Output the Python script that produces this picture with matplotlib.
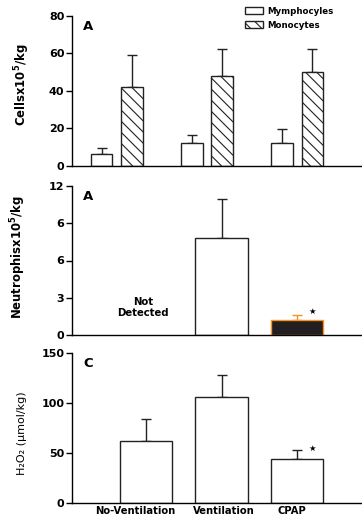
import numpy as np
import matplotlib
matplotlib.use("Agg")
import matplotlib.pyplot as plt
from matplotlib.transforms import ScaledTranslation

plt.rcParams['font.family'] = ['DejaVu Sans']
plt.rcParams['font.weight'] = 'bold'
plt.rcParams['axes.labelweight'] = 'bold'
plt.rcParams['mathtext.default'] = 'bf'
plt.rcParams['hatch.linewidth'] = 0.8

# top panel: cells
cell_groups = ['No-Ventilation', 'Ventilation', 'CPAP']
lympho = [6.5, 12, 12]
lympho_err = [3, 4.5, 7.5]
mono = [42, 48, 50]
mono_err = [17, 14.5, 12.5]

# middle panel: neutrophils (No-Ventilation not detected)
neut_groups = ['Ventilation', 'CPAP']
neut = [7.8, 1.2]
neut_err = [3.15, 0.45]
neut_ticks = [0, 3, 6, 9, 12]
neut_ticklabels = ['0', '3', '6', '6', '12']

# bottom panel: H2O2
h2o2_groups = ['No-Ventilation', 'Ventilation', 'CPAP']
h2o2 = [62, 105.5, 44.5]
h2o2_err = [21.5, 22, 8.5]

fig = plt.figure(figsize=(3.62, 5.21), dpi=100)
ax1 = fig.add_axes([0.199, 0.6814, 0.801, 0.288])
ax2 = fig.add_axes([0.199, 0.357, 0.801, 0.286])
ax3 = fig.add_axes([0.199, 0.0345, 0.801, 0.288])

lw = 1.0
ink = '#222222'
for ax in (ax1, ax2, ax3):
    for s in ('top', 'right'):
        ax.spines[s].set_visible(False)
    ax.spines['left'].set_linewidth(lw)
    ax.spines['bottom'].set_linewidth(lw)
    ax.tick_params(axis='y', direction='out', length=4, width=lw, labelsize=8.0, pad=1.5)
    ax.tick_params(axis='x', length=0)

# ---- panel 1
x = np.arange(len(cell_groups))
bw = 0.238
off = 0.168
ax1.bar(x - off, lympho, bw, color='white', edgecolor=ink, linewidth=lw,
        label='Mymphocyles', zorder=2)
ax1.bar(x + off, mono, bw, color='white', edgecolor=ink, linewidth=lw,
        hatch='\\\\\\', label='Monocytes', zorder=2)
ax1.errorbar(x - off, lympho, yerr=[np.zeros(3), lympho_err], fmt='none',
             ecolor=ink, elinewidth=lw, capsize=3.3, capthick=lw, zorder=1)
ax1.errorbar(x + off, mono, yerr=[np.zeros(3), mono_err], fmt='none',
             ecolor=ink, elinewidth=lw, capsize=3.3, capthick=lw, zorder=1)
ax1.set_xlim(-0.497, 2.718)
ax1.set_ylim(0, 80)
ax1.set_yticks([0, 20, 40, 60, 80])
ax1.set_xticks([])
ax1.set_ylabel('Cellsx10$^5$/kg', fontsize=8.4)
ax1.yaxis.set_label_coords(-0.138, 0.543)
ax1.text(0.038, 0.975, 'A', transform=ax1.transAxes, fontsize=9.5, va='top')
ax1.legend(loc='upper left', bbox_to_anchor=(0.585, 1.085), frameon=False,
           fontsize=6.2, handlelength=2.1, handleheight=0.85,
           labelspacing=0.6, handletextpad=0.5, borderaxespad=0)

# ---- panel 2
pos3 = np.arange(3)
w3 = 0.69
xlim3 = (-0.98, 2.86)
npos = pos3[1:]
ax2.bar(npos[0], neut[0], w3, color='white', edgecolor=ink, linewidth=lw, zorder=2)
ax2.bar(npos[1], neut[1], w3, color='#231f20', edgecolor='#f7931e', linewidth=lw, zorder=2)
ax2.errorbar(npos[0], neut[0], yerr=[[0], [neut_err[0]]], fmt='none', ecolor=ink,
             elinewidth=lw, capsize=3.5, capthick=lw, zorder=1)
ax2.errorbar(npos[1], neut[1], yerr=[[0], [neut_err[1]]], fmt='none', ecolor='#f7931e',
             elinewidth=lw, capsize=3.5, capthick=lw, zorder=1)
ax2.text(npos[1] + 0.2, neut[1] + neut_err[1] - 0.1, '\u2605', fontsize=6, ha='center',
         va='bottom')
ax2.text(-0.04, 2.2, 'Not\nDetected', ha='center', va='center', fontsize=7.3,
         linespacing=1.2)
ax2.set_xlim(*xlim3)
ax2.set_ylim(0, 12)
ax2.set_yticks(neut_ticks)
ax2.set_yticklabels(neut_ticklabels)
ax2.set_xticks([])
ax2.set_ylabel('Neutrophisx10$^5$/kg', fontsize=8.4)
ax2.yaxis.set_label_coords(-0.152, 0.523)
ax2.text(0.038, 0.975, 'A', transform=ax2.transAxes, fontsize=9.5, va='top')

# ---- panel 3
ax3.bar(pos3, h2o2, w3, color='white', edgecolor=ink, linewidth=lw, zorder=2)
ax3.errorbar(pos3, h2o2, yerr=[np.zeros(3), h2o2_err], fmt='none', ecolor=ink,
             elinewidth=lw, capsize=3.5, capthick=lw, zorder=1)
ax3.text(pos3[2] + 0.2, h2o2[2] + h2o2_err[2] - 3, '\u2605', fontsize=6, ha='center',
         va='bottom')
ax3.set_xlim(*xlim3)
ax3.set_ylim(0, 150)
ax3.set_yticks([0, 50, 100, 150])
ax3.set_xticks(pos3)
ax3.set_xticklabels(h2o2_groups, fontsize=7.2)
ax3.tick_params(axis='x', pad=2)
for lab, dx in zip(ax3.get_xticklabels(), [-11, 2, -5]):
    lab.set_transform(lab.get_transform() + ScaledTranslation(dx / 100, 0, fig.dpi_scale_trans))
ax3.set_ylabel('H\u2082O\u2082 (\u00b5mol/kg)', fontsize=8.0, fontweight='normal')
ax3.yaxis.set_label_coords(-0.155, 0.467)
ax3.text(0.038, 0.975, 'C', transform=ax3.transAxes, fontsize=9.5, va='top')

fig.savefig('out.png', dpi=100)
